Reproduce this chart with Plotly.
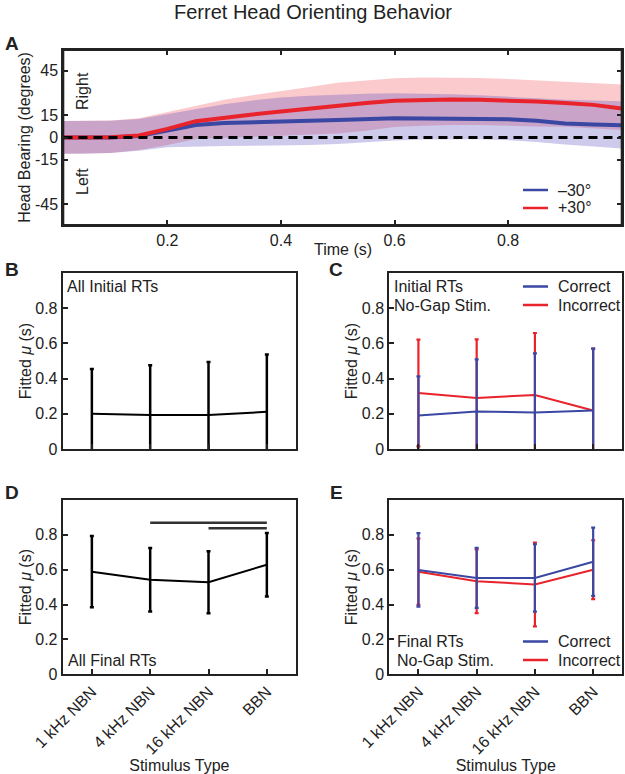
import plotly.graph_objects as go

W, H = 625, 774

# ---------------- Data ----------------
# Panel A: head bearing over time
time_s = [0.017, 0.05, 0.1, 0.15, 0.2, 0.25, 0.3, 0.35, 0.4, 0.45, 0.5,
          0.55, 0.6, 0.65, 0.7, 0.75, 0.8, 0.85, 0.9, 0.95, 1.0]
neg30_mean = [0, 0, 0, 1.0, 4.8, 8.4, 9.8, 10.5, 10.8, 11.3, 11.8,
              12.3, 13.0, 12.8, 12.6, 12.5, 12.3, 11.3, 9.5, 8.8, 8.2]
neg30_upper = [11.2, 11.2, 11.3, 12.5, 16.0, 19.5, 22.5, 25.0, 27.0, 28.2, 29.0,
               29.5, 29.8, 29.6, 29.2, 28.5, 27.5, 26.5, 25.5, 25.0, 24.4]
neg30_lower = [-11, -11, -10.5, -9, -6.5, -6, -5.7, -5.5, -5.5, -5.0, -4.3,
               -3.2, -2.0, -1.3, -1.0, -1.2, -1.8, -3.0, -4.8, -6.2, -7.5]
pos30_mean = [0, 0, 0.2, 1.3, 5.8, 11.0, 13.5, 15.5, 17.5, 19.5, 21.5,
              23.3, 24.8, 25.5, 25.6, 25.4, 25.0, 24.3, 23.2, 22.0, 19.6]
pos30_upper = [11.2, 11.2, 11.5, 13, 17, 21.5, 25.5, 28.5, 31, 34, 37,
               38.5, 40, 40.4, 40.4, 40.2, 39.5, 38.5, 37.5, 36.5, 35.8]
pos30_lower = [-11, -11, -10.5, -8.5, -5, -1.0, 0, 0.5, 1.0, 2.0, 2.7,
               4.5, 7.0, 8.0, 8.4, 8.4, 8.0, 7.5, 7.2, 6.0, 5.0]

# Panels B-E: stimulus types
stimuli = ["1 kHz NBN", "4 kHz NBN", "16 kHz NBN", "BBN"]
stim_pos = [1, 2, 3, 4]

initial_all_mu = [0.200, 0.193, 0.193, 0.211]
initial_all_err = [0.255, 0.283, 0.302, 0.326]

initial_correct_mu = [0.190, 0.213, 0.207, 0.219]
initial_correct_err = [0.223, 0.296, 0.336, 0.351]
initial_incorrect_mu = [0.318, 0.290, 0.307, 0.219]
initial_incorrect_err = [0.303, 0.333, 0.352, 0.351]

final_all_mu = [0.589, 0.543, 0.528, 0.629]
final_all_err = [0.205, 0.182, 0.178, 0.182]
sig_bars = [(2, 4, 0.869), (3, 4, 0.838)]

final_correct_mu = [0.599, 0.553, 0.553, 0.646]
final_correct_err = [0.211, 0.172, 0.193, 0.196]
final_incorrect_mu = [0.589, 0.534, 0.515, 0.600]
final_incorrect_err = [0.190, 0.183, 0.240, 0.169]

# ---------------- Style ----------------
BLUE = "#3a47a3"
RED = "#e8232c"
INK = "#222222"
FONT = "Liberation Sans, Arial, sans-serif"
FS = 16


def px_x(p):
    return p / W


def px_y(p):
    return 1 - p / H


fig = go.Figure()

# ---- Panel A ----
fig.add_trace(go.Scatter(
    x=time_s + time_s[::-1], y=pos30_upper + pos30_lower[::-1],
    fill="toself", fillcolor="rgba(240,60,70,0.27)", line=dict(width=0),
    mode="lines", showlegend=False, hoverinfo="skip", xaxis="x", yaxis="y"))
fig.add_trace(go.Scatter(
    x=time_s + time_s[::-1], y=neg30_upper + neg30_lower[::-1],
    fill="toself", fillcolor="rgba(75,65,185,0.28)", line=dict(width=0),
    mode="lines", showlegend=False, hoverinfo="skip", xaxis="x", yaxis="y"))
fig.add_trace(go.Scatter(
    x=time_s, y=neg30_mean, mode="lines", name="\u201330\u00b0",
    line=dict(color=BLUE, width=4), showlegend=False, xaxis="x", yaxis="y"))
fig.add_trace(go.Scatter(
    x=time_s, y=pos30_mean, mode="lines", name="+30\u00b0",
    line=dict(color=RED, width=4), showlegend=False, xaxis="x", yaxis="y"))
fig.add_trace(go.Scatter(
    x=[time_s[0], time_s[-1]], y=[0, 0], mode="lines", showlegend=False,
    line=dict(color="black", width=3, dash="9px,6px"), xaxis="x", yaxis="y"))


def err_trace(mu, err, color, name, ax, lw=2, thick=2.2, cap=2):
    return go.Scatter(
        x=stim_pos, y=mu, mode="lines", name=name,
        line=dict(color=color, width=lw),
        error_y=dict(type="data", array=err, visible=True, color=color,
                     thickness=thick, width=cap),
        showlegend=False, xaxis="x" + ax, yaxis="y" + ax)


# ---- Panel B ----
fig.add_trace(err_trace(initial_all_mu, initial_all_err, "black", "All", "2",
                        lw=2, thick=2.5))
# ---- Panel C ----
fig.add_trace(err_trace(initial_incorrect_mu, initial_incorrect_err, RED,
                        "Incorrect", "3"))
fig.add_trace(err_trace(initial_correct_mu, initial_correct_err, BLUE,
                        "Correct", "3"))
# ---- Panel D ----
fig.add_trace(err_trace(final_all_mu, final_all_err, "black", "All", "4",
                        lw=2, thick=2.5))
for x0, x1, yv in sig_bars:
    fig.add_trace(go.Scatter(x=[x0, x1], y=[yv, yv], mode="lines",
                             line=dict(color="#333333", width=2.5),
                             showlegend=False, xaxis="x4", yaxis="y4"))
# ---- Panel E ----
fig.add_trace(err_trace(final_incorrect_mu, final_incorrect_err, RED,
                        "Incorrect", "5"))
fig.add_trace(err_trace(final_correct_mu, final_correct_err, BLUE,
                        "Correct", "5"))

axis_common = dict(showline=True, linecolor=INK, linewidth=2, mirror=True,
                   ticks="inside", ticklen=5, tickwidth=1.5, tickcolor=INK,
                   showgrid=False, zeroline=False, automargin=False,
                   tickfont=dict(size=FS, color=INK, family=FONT))

dom_A_x = [px_x(63.3), px_x(621.7)]
dom_A_y = [px_y(225), px_y(50)]
dom_L_x = [px_x(62.7), px_x(296)]
dom_R_x = [px_x(389.3), px_x(622.3)]
dom_top_y = [px_y(449), px_y(273)]
dom_bot_y = [px_y(674.3), px_y(500)]

title_font = dict(size=FS, color=INK, family=FONT)
mu_title = dict(text="Fitted <i>\u03bc</i> (s)", font=title_font, standoff=0)
ytick_mu = dict(tickvals=[0, 0.2, 0.4, 0.6, 0.8],
                ticktext=["0", "0.2", "0.4", "0.6", "0.8"], range=[0, 1.0])

layout = dict(
    template="none",
    width=W, height=H, margin=dict(l=0, r=0, t=0, b=0, autoexpand=False),
    paper_bgcolor="white", plot_bgcolor="white",
    font=dict(family=FONT, size=FS, color=INK),
    showlegend=False,
    xaxis=dict(domain=dom_A_x, anchor="y", range=[0.0167, 1.0],
               tickvals=[0.2, 0.4, 0.6, 0.8], ticktext=["0.2", "0.4", "0.6", "0.8"],
               **{**axis_common, "mirror": "ticks"}),
    yaxis=dict(domain=dom_A_y, anchor="x", range=[-59, 59],
               tickvals=[-45, -15, 0, 15, 45], ticktext=["-45", "-15", "0", "15", "45"],
               title=dict(text="Head Bearing (degrees)", font=title_font, standoff=0),
               **{**axis_common, "mirror": "ticks"}),
    xaxis2=dict(domain=dom_L_x, anchor="y2", range=[0.5, 4.5], tickvals=stim_pos,
                showticklabels=False, **axis_common),
    yaxis2=dict(domain=dom_top_y, anchor="x2", title=mu_title, **ytick_mu, **axis_common),
    xaxis3=dict(domain=dom_R_x, anchor="y3", range=[0.5, 4.5], tickvals=stim_pos,
                showticklabels=False, **axis_common),
    yaxis3=dict(domain=dom_top_y, anchor="x3", title=mu_title, **ytick_mu, **axis_common),
    xaxis4=dict(domain=dom_L_x, anchor="y4", range=[0.5, 4.5], tickvals=stim_pos,
                ticktext=stimuli, tickangle=-45,
                title=dict(text="Stimulus Type", font=title_font, standoff=0),
                **axis_common),
    yaxis4=dict(domain=dom_bot_y, anchor="x4", title=mu_title, **ytick_mu, **axis_common),
    xaxis5=dict(domain=dom_R_x, anchor="y5", range=[0.5, 4.5], tickvals=stim_pos,
                ticktext=stimuli, tickangle=-45,
                title=dict(text="Stimulus Type", font=title_font, standoff=0),
                **axis_common),
    yaxis5=dict(domain=dom_bot_y, anchor="x5", title=mu_title, **ytick_mu, **axis_common),
)
fig.update_layout(**layout)

shapes = [
    # frame around panel A
    dict(type="rect", xref="x domain", yref="y domain", x0=0, x1=1, y0=0, y1=1,
         line=dict(color=INK, width=2), fillcolor="rgba(0,0,0,0)", layer="above"),
]
annotations = []

# Legends drawn as line keys + labels (window pixel positions)
legend_rows = [
    ("\u201330\u00b0", BLUE, 190), ("+30\u00b0", RED, 208),
    ("Correct", BLUE, 286.5), ("Incorrect", RED, 305),
    ("Correct", BLUE, 641.5), ("Incorrect", RED, 660),
]
for label, col, yy in legend_rows:
    shapes.append(dict(type="line", xref="paper", yref="paper",
                       x0=px_x(523), x1=px_x(548), y0=px_y(yy), y1=px_y(yy),
                       line=dict(color=col, width=2.5)))
    annotations.append(dict(text=label, x=px_x(556), y=px_y(yy), xanchor="left",
                            showarrow=False, font=dict(size=FS, color=INK)))

annotations += [
    dict(text="Ferret Head Orienting Behavior", x=px_x(313), y=px_y(12),
         font=dict(size=20, color=INK), showarrow=False),
    dict(text="Time (s)", x=px_x(343), y=px_y(249), showarrow=False,
         font=dict(size=FS, color=INK)),
    dict(text="<b>A</b>", x=px_x(12), y=px_y(44), font=dict(size=19, color=INK), showarrow=False),
    dict(text="<b>B</b>", x=px_x(12), y=px_y(269), font=dict(size=19, color=INK), showarrow=False),
    dict(text="<b>C</b>", x=px_x(336), y=px_y(269), font=dict(size=19, color=INK), showarrow=False),
    dict(text="<b>D</b>", x=px_x(12), y=px_y(493), font=dict(size=19, color=INK), showarrow=False),
    dict(text="<b>E</b>", x=px_x(336), y=px_y(493), font=dict(size=19, color=INK), showarrow=False),
    dict(text="Right", x=px_x(82), y=px_y(91), textangle=-90, showarrow=False,
         font=dict(size=FS, color=INK)),
    dict(text="Left", x=px_x(82), y=px_y(182), textangle=-90, showarrow=False,
         font=dict(size=FS, color=INK)),
    dict(text="All Initial RTs", x=px_x(65), y=px_y(286), xanchor="left", showarrow=False,
         font=dict(size=FS, color=INK)),
    dict(text="Initial RTs", x=px_x(392), y=px_y(286.5), xanchor="left", showarrow=False,
         font=dict(size=FS, color=INK)),
    dict(text="No-Gap Stim.", x=px_x(392), y=px_y(305), xanchor="left", showarrow=False,
         font=dict(size=FS, color=INK)),
    dict(text="All Final RTs", x=px_x(66), y=px_y(660), xanchor="left", showarrow=False,
         font=dict(size=FS, color=INK)),
    dict(text="Final RTs", x=px_x(395), y=px_y(641.5), xanchor="left", showarrow=False,
         font=dict(size=FS, color=INK)),
    dict(text="No-Gap Stim.", x=px_x(395), y=px_y(660), xanchor="left", showarrow=False,
         font=dict(size=FS, color=INK)),
]
for a in annotations:
    a.setdefault("xref", "paper")
    a.setdefault("yref", "paper")
    a.setdefault("xanchor", "center")
    a.setdefault("yanchor", "middle")
fig.update_layout(annotations=annotations, shapes=shapes)

# Remove the page's default body margin so the figure fills the window.
fig.write_html("out.html",
               config={"displayModeBar": False},
               post_script="document.body.style.margin='0';"
                           "document.body.style.overflow='hidden';")
